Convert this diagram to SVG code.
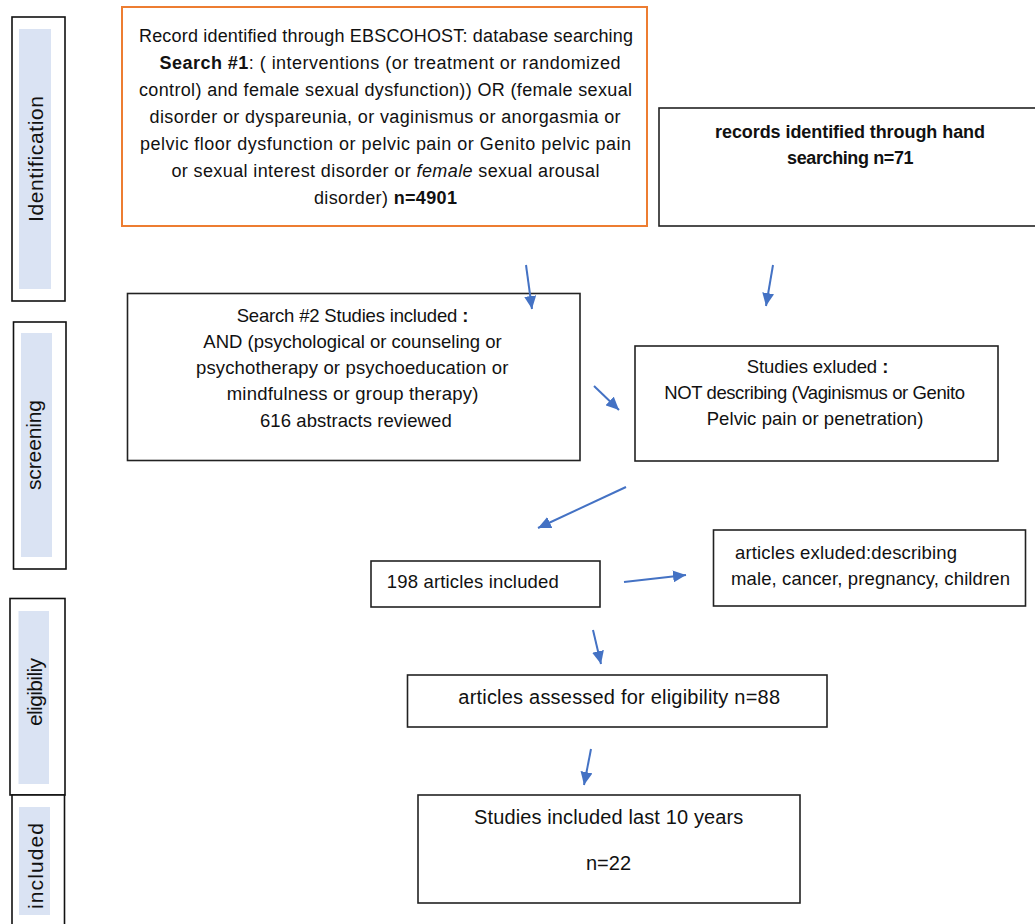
<svg xmlns="http://www.w3.org/2000/svg" width="1035" height="924" viewBox="0 0 1035 924">
<defs>
<style>
text{font-family:"Liberation Sans",Arial,sans-serif;fill:#111}
.box{fill:#fff;stroke:#222;stroke-width:1.6}
.org{fill:#fff;stroke:#ED7D31;stroke-width:2}
.bar{fill:#fff;stroke:#111;stroke-width:1.6}
.band{fill:#DAE3F3}
.lbl{font-size:21px}
.t18{font-size:18px}
.t185{font-size:18.5px}
.t20{font-size:20px}
.b{font-weight:bold}
.arr{stroke:#4472C4;stroke-width:2;fill:none;marker-end:url(#ah)}
</style>
<marker id="ah" markerUnits="userSpaceOnUse" markerWidth="14" markerHeight="12" refX="13" refY="6" orient="auto">
<path d="M0,0 L13,6 L0,12 z" fill="#4472C4"/>
</marker>
</defs>
<rect width="1035" height="924" fill="#fff"/>

<g id="stage-identification">
<rect class="bar" x="12" y="17" width="53" height="284"/>
<rect class="band" x="19" y="29" width="32" height="260"/>
<text class="lbl" transform="translate(43,159) rotate(-90)" text-anchor="middle" textLength="126">Identification</text>
</g>
<g id="stage-screening">
<rect class="bar" x="13.5" y="322" width="52.5" height="247"/>
<rect class="band" x="21" y="333" width="31" height="224"/>
<text class="lbl" transform="translate(41,445) rotate(-90)" text-anchor="middle" textLength="90">screening</text>
</g>
<g id="stage-eligibility">
<rect class="bar" x="10" y="598.5" width="55" height="196.5"/>
<rect class="band" x="18.5" y="611" width="30.5" height="173"/>
<text class="lbl" transform="translate(42,692) rotate(-90)" text-anchor="middle" textLength="68">eligibiliy</text>
</g>
<g id="stage-included">
<rect class="bar" x="12" y="795" width="52.5" height="140"/>
<rect class="band" x="19" y="807" width="31" height="108"/>
<text class="lbl" transform="translate(43,866) rotate(-90)" text-anchor="middle" textLength="86">included</text>
</g>

<g id="search1">
<rect class="org" x="122" y="7" width="525" height="219"/>
<text class="t18" x="139" y="41.7" textLength="494">Record identified through EBSCOHOST: database searching</text>
<text class="t18" x="159.5" y="68.7" textLength="461"><tspan class="b">Search #1</tspan>: ( interventions (or treatment or randomized</text>
<text class="t18" x="139" y="95.7" textLength="493">control) and female sexual dysfunction)) OR (female sexual</text>
<text class="t18" x="149.6" y="122.7" textLength="471">disorder or dyspareunia, or vaginismus or anorgasmia or</text>
<text class="t18" x="140" y="149.7" textLength="491">pelvic floor dysfunction or pelvic pain or Genito pelvic pain</text>
<text class="t18" x="171.4" y="176.7" textLength="428">or sexual interest disorder or <tspan font-style="italic">female</tspan> sexual arousal</text>
<text class="t18" x="314" y="203.7" textLength="143">disorder) <tspan class="b">n=4901</tspan></text>
</g>

<g id="hand-search">
<rect class="box" x="659" y="108" width="380" height="118"/>
<text class="t18 b" x="715" y="137.7" textLength="270">records identified through hand</text>
<text class="t18 b" x="787" y="164" textLength="126.6">searching n=71</text>
</g>

<g id="search2">
<rect class="box" x="127.5" y="293.5" width="452.5" height="167"/>
<text class="t185" x="236.7" y="322" textLength="231.6">Search #2 Studies included <tspan class="b">:</tspan></text>
<text class="t185" x="203.3" y="348" textLength="298.4">AND (psychological or counseling or</text>
<text class="t185" x="196" y="374" textLength="312.3">psychotherapy or psychoeducation or</text>
<text class="t185" x="226.7" y="400" textLength="251.6">mindfulness or group therapy)</text>
<text class="t185" x="260" y="426.5" textLength="191.7">616 abstracts reviewed</text>
</g>

<g id="studies-excluded">
<rect class="box" x="635" y="346" width="363" height="115"/>
<text class="t185" x="746.7" y="373" textLength="141.6">Studies exluded <tspan class="b">:</tspan></text>
<text class="t185" x="664.3" y="398.5" textLength="300.7">NOT describing (Vaginismus or Genito</text>
<text class="t185" x="706.7" y="424.5" textLength="216.6">Pelvic pain or penetration)</text>
</g>

<g id="articles-included">
<rect class="box" x="371" y="561" width="229" height="46"/>
<text class="t185" x="386.8" y="588" textLength="172">198 articles included</text>
</g>

<g id="articles-excluded">
<rect class="box" x="713.5" y="530" width="312" height="76"/>
<text class="t185" x="735" y="559" textLength="222">articles exluded:describing</text>
<text class="t185" x="731" y="585" textLength="279">male, cancer, pregnancy, children</text>
</g>

<g id="eligibility">
<rect class="box" x="407.5" y="675" width="419.5" height="52"/>
<text class="t20" x="458.3" y="704" textLength="321.7">articles assessed for eligibility n=88</text>
</g>

<g id="final">
<rect class="box" x="418" y="795" width="382" height="108"/>
<text class="t20" x="474" y="823.5" textLength="269.3">Studies included last 10 years</text>
<text class="t20" x="586" y="869.5" textLength="45">n=22</text>
</g>

<g id="connectors">
<line class="arr" x1="526" y1="265" x2="532" y2="309"/>
<line class="arr" x1="773" y1="265" x2="766" y2="306"/>
<line class="arr" x1="594" y1="386" x2="619" y2="410"/>
<line class="arr" x1="626" y1="487" x2="538" y2="528"/>
<line class="arr" x1="624" y1="582" x2="686" y2="575"/>
<line class="arr" x1="593" y1="630" x2="601" y2="664"/>
<line class="arr" x1="591" y1="749" x2="584" y2="785"/>
</g>
</svg>
